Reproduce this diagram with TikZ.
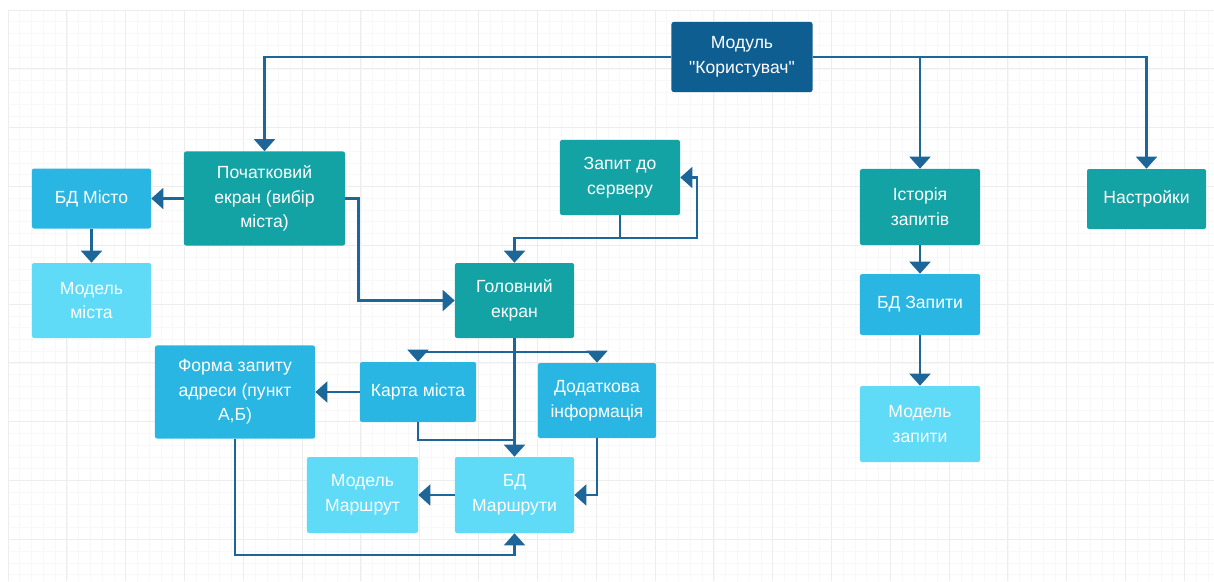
\documentclass[tikz,border=0pt]{standalone}
\usepackage{fontspec}
\setmainfont{Liberation Sans}
\usetikzlibrary{arrows.meta, positioning}

\definecolor{moduleBlue}{HTML}{0F5E91}
\definecolor{screenTeal}{HTML}{14A3A5}
\definecolor{dbBlue}{HTML}{29B6E3}
\definecolor{modelBlue}{HTML}{5FDAF7}
\definecolor{lineBlue}{HTML}{1D6699}
\definecolor{gridMajor}{HTML}{EDEDED}
\definecolor{gridMinor}{HTML}{F8F8F8}

\begin{document}
\begin{tikzpicture}[x=0.025cm, y=-0.025cm,
        box/.style={rounded corners=1.5pt, text=white, align=center,
            font=\fontsize{12.5pt}{17.5pt}\selectfont,
            minimum width=3cm, minimum height=1.875cm, inner sep=0pt},
        screen/.style={box, fill=screenTeal},
        db/.style={box, fill=dbBlue},
        model/.style={box, fill=modelBlue},
        link/.style={draw=lineBlue, line width=1.8pt,
            -{Triangle[width=0.52cm, length=0.3cm]}},
        plain/.style={draw=lineBlue, line width=1.8pt}]
        \useasboundingbox[fill=white] (0,0) rectangle (1214,581);
        \begin{scope}[shift={(8,10)}]
            \draw[gridMinor, line width=0.4pt, step=0.294cm] (0,0) grid (1206,571);
            \draw[gridMajor, line width=0.6pt, step=1.47cm] (0,0) grid (1206,571);
        \end{scope}

        \node[box, fill=moduleBlue, minimum width=3.525cm, minimum height=1.75cm] (module) at (742, 57) {Модуль\\\textquotedbl Користувач\textquotedbl};
        \node[screen, minimum width=4.025cm, minimum height=2.35cm] (startScreen) at (264.5, 198.5) {Початковий\\екран (вибір\\міста)};
        \node[db, minimum width=2.975cm, minimum height=1.5cm] (cityDb) at (91.5, 198.5) {БД Місто};
        \node[model, minimum width=2.975cm] (cityModel) at (91.5, 300.5) {Модель\\міста};
        \node[screen] (serverQuery) at (620, 177.5) {Запит до\\серверу};
        \node[screen, minimum width=2.975cm] (mainScreen) at (514.5, 300.5) {Головний\\екран};
        \node[db, minimum width=4cm, minimum height=2.325cm] (addressForm) at (235, 392) {Форма запиту\\адреси (пункт\\А,Б)};
        \node[db, minimum width=2.9cm, minimum height=1.5cm] (cityMap) at (418, 392) {Карта міста};
        \node[db, minimum width=2.95cm] (extraInfo) at (597, 400.5) {Додаткова\\інформація};
        \node[model, minimum width=2.775cm, minimum height=1.9cm] (routeModel) at (362.5, 495) {Модель\\Маршрут};
        \node[model, minimum width=2.975cm, minimum height=1.9cm] (routeDb) at (514.5, 495) {БД\\Маршрути};
        \node[screen, minimum height=1.9cm] (history) at (920, 207) {Історія\\запитів};
        \node[db, minimum height=1.525cm] (queryDb) at (920, 304.5) {БД Запити};
        \node[model, minimum height=1.9cm] (queryModel) at (920, 424) {Модель\\запити};
        \node[screen, minimum width=2.975cm, minimum height=1.5cm] (settings) at (1146.5, 199) {Настройки};

        \coordinate (queryBus) at (620, 238);
        \coordinate (queryLoop) at (697, 238);
        \coordinate (mainBus) at (514.5, 352);
        \coordinate (mapJoin) at (514.5, 440);
        \coordinate (formDown) at (235, 555);

        \draw[link] (module.west) -| (startScreen.north);
        \draw[link] (module.east) -| (history.north);
        \draw[link] (module.east) -| (settings.north);
        \draw[link] (startScreen.west) -- (cityDb.east);
        \draw[link] (cityDb.south) -- (cityModel.north);
        \draw[link] (startScreen.east) -- ++(13,0) |- (mainScreen.west);
        \draw[link] (serverQuery.south) -- (queryBus) -| (mainScreen.north);
        \draw[link] (queryBus) -- (queryLoop) |- (serverQuery.east);
        \draw[plain] (mainScreen.south) -- (mainBus);
        \draw[link] (mainBus) -| (cityMap.north);
        \draw[link] (mainBus) -| (extraInfo.north);
        \draw[link] (mainBus) -- (routeDb.north);
        \draw[plain] (cityMap.south) |- (mapJoin);
        \draw[link] (cityMap.west) -- (addressForm.east);
        \draw[link] (extraInfo.south) |- (routeDb.east);
        \draw[link] (routeDb.west) -- (routeModel.east);
        \draw[link] (addressForm.south) -- (formDown) -| (routeDb.south);
        \draw[link] (history.south) -- (queryDb.north);
        \draw[link] (queryDb.south) -- (queryModel.north);
    \end{tikzpicture}
\end{document}
